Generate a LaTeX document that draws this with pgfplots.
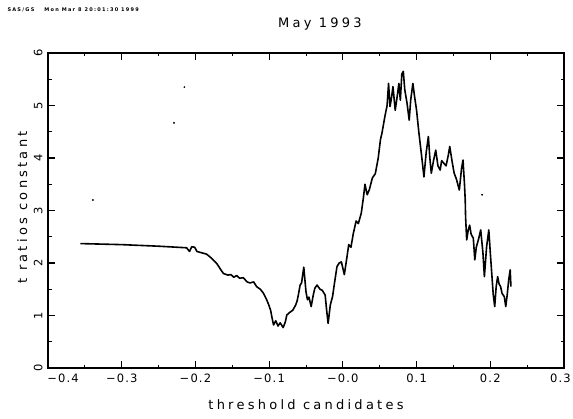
\documentclass[border=0pt]{standalone}
\usepackage{fontspec}
\setmainfont{DejaVu Sans}[LetterSpace=25]
\newfontfamily\tickfont{DejaVu Sans}[LetterSpace=10]
\usepackage{pgfplots}
\pgfplotsset{compat=1.18}
\begin{document}
\begin{tikzpicture}
\useasboundingbox (-48pt,-50pt) rectangle (525pt,368pt);
\begin{axis}[
  scale only axis, width=516pt, height=315pt,
  xmin=-0.4, xmax=0.3, ymin=0, ymax=6,
  axis line style={line width=1.4pt},
  xtick={-0.4,-0.3,-0.2,-0.1,0,0.1,0.2,0.3},
  xticklabels={\hspace*{30pt}−0.4,−0.3,−0.2,−0.1,−0.0,0.1,0.2,0.3\hspace*{7pt}},
  ytick={0,1,2,3,4,5,6},
  yticklabels={0,1,2,3,4,5,6},
  tick align=inside,
  major tick length=7pt,
  tick style={draw=black, line width=1.1pt},
  ticklabel style={font=\tickfont\fontsize{11.5}{13}\selectfont},
  /pgf/number format/assume math mode=true,
  yticklabel style={rotate=90, anchor=south, yshift=2pt},
  xticklabel style={yshift=-2pt},
  xlabel={threshold candidates},
  ylabel={t ratios constant},
  xlabel style={at={(axis description cs:0.5,-0.117)}, anchor=center, font=\fontsize{13}{15}\selectfont},
  ylabel style={at={(axis description cs:-0.050,0.51)}, anchor=center, font=\fontsize{13}{15}\selectfont},
  title={May 1993},
  title style={at={(axis description cs:0.527,1.073)}, anchor=center, font=\fontsize{13}{15}\selectfont},
  clip=false,
]
\addplot[black, line width=1.6pt, line join=round] coordinates {
(-0.356,2.37) (-0.30,2.35) (-0.25,2.32) (-0.212,2.29) (-0.208,2.22) (-0.205,2.31)
(-0.201,2.30) (-0.198,2.22) (-0.193,2.20) (-0.185,2.17) (-0.178,2.09) (-0.171,1.99)
(-0.165,1.86) (-0.162,1.80) (-0.156,1.77) (-0.152,1.78) (-0.148,1.73) (-0.144,1.76)
(-0.140,1.71) (-0.135,1.72) (-0.130,1.64) (-0.126,1.62) (-0.121,1.64) (-0.117,1.55)
(-0.112,1.50) (-0.108,1.43) (-0.104,1.32) (-0.101,1.22) (-0.098,1.10) (-0.096,0.95)
(-0.094,0.82) (-0.091,0.90) (-0.088,0.80) (-0.085,0.86) (-0.081,0.77) (-0.078,0.88)
(-0.076,1.01) (-0.072,1.06) (-0.068,1.10) (-0.064,1.20) (-0.062,1.28) (-0.060,1.42)
(-0.058,1.58) (-0.056,1.62) (-0.053,1.92) (-0.050,1.45) (-0.048,1.30) (-0.046,1.35)
(-0.043,1.17) (-0.040,1.40) (-0.038,1.52) (-0.035,1.58) (-0.031,1.50) (-0.028,1.48)
(-0.024,1.39) (-0.022,1.10) (-0.020,0.85) (-0.017,1.20) (-0.014,1.36) (-0.011,1.65)
(-0.008,1.93) (-0.005,2.00) (-0.002,2.02) (0.002,1.78) (0.005,2.06) (0.008,2.35)
(0.011,2.30) (0.014,2.55) (0.018,2.80) (0.021,2.75) (0.025,2.95) (0.028,3.26)
(0.030,3.50) (0.033,3.30) (0.036,3.40) (0.040,3.62) (0.044,3.70) (0.048,4.00)
(0.051,4.35) (0.053,4.47) (0.057,4.79) (0.060,5.00) (0.062,5.42) (0.064,4.98)
(0.066,5.15) (0.068,5.36) (0.071,4.91) (0.074,5.20) (0.076,5.42) (0.078,5.10)
(0.080,5.60) (0.082,5.65) (0.084,5.30) (0.087,5.05) (0.090,4.72) (0.092,5.10)
(0.095,5.42) (0.097,5.20) (0.100,4.91) (0.103,4.50) (0.107,4.02) (0.110,3.64)
(0.113,4.10) (0.116,4.41) (0.118,4.00) (0.120,3.71) (0.123,3.95) (0.126,4.15)
(0.129,3.85) (0.132,3.77) (0.134,3.95) (0.137,3.90) (0.140,3.85) (0.143,4.05)
(0.145,4.22) (0.148,3.95) (0.151,3.71) (0.154,3.60) (0.158,3.39) (0.161,3.80)
(0.163,3.96) (0.165,3.50) (0.166,3.20) (0.1665,2.88) (0.168,2.44) (0.170,2.62)
(0.172,2.72) (0.174,2.55) (0.177,2.47) (0.179,2.06) (0.181,2.30) (0.184,2.45)
(0.187,2.63) (0.190,2.20) (0.192,1.74) (0.195,2.31) (0.198,2.63) (0.200,2.20)
(0.202,1.80) (0.204,1.40) (0.206,1.17) (0.208,1.55) (0.210,1.74) (0.212,1.60)
(0.214,1.55) (0.216,1.42) (0.219,1.36) (0.221,1.17) (0.223,1.40) (0.225,1.68)
(0.227,1.87) (0.228,1.55)
};
\addplot[only marks, mark=*, mark size=0.7pt, black] coordinates {
(-0.339,3.20) (-0.215,5.35) (-0.229,4.67) (0.189,3.30)
};
\end{axis}
% tick marks, drawn on the axis frame (516pt x 315pt)
\foreach \i in {1,...,6} {
  \draw[line width=1pt] ({\i*73.714pt},0pt) -- ++(0pt,6pt);
  \draw[line width=1pt] ({\i*73.714pt},315pt) -- ++(0pt,-6pt);
}
\foreach \i in {0,...,6} {
  \draw[line width=0.9pt] ({(\i+0.5)*73.714pt},0pt) -- ++(0pt,3.5pt);
  \draw[line width=0.9pt] ({(\i+0.5)*73.714pt},315pt) -- ++(0pt,-3.5pt);
}
\foreach \j in {1,...,5} {
  \draw[line width=1pt] (0pt,{\j*52.5pt}) -- ++(6pt,0pt);
  \draw[line width=1pt] (516pt,{\j*52.5pt}) -- ++(-6pt,0pt);
}
\foreach \j in {0,...,5} {
  \draw[line width=0.9pt] (0pt,{(\j+0.5)*52.5pt}) -- ++(3.5pt,0pt);
  \draw[line width=0.9pt] (516pt,{(\j+0.5)*52.5pt}) -- ++(-3.5pt,0pt);
}
\node[anchor=west, font=\fontsize{5}{6}\selectfont\bfseries] at (-44pt,358pt) {SAS/GS\hspace{10pt}Mon Mar\hspace{3pt}8 20:01:30 1999};
\end{tikzpicture}
\end{document}
